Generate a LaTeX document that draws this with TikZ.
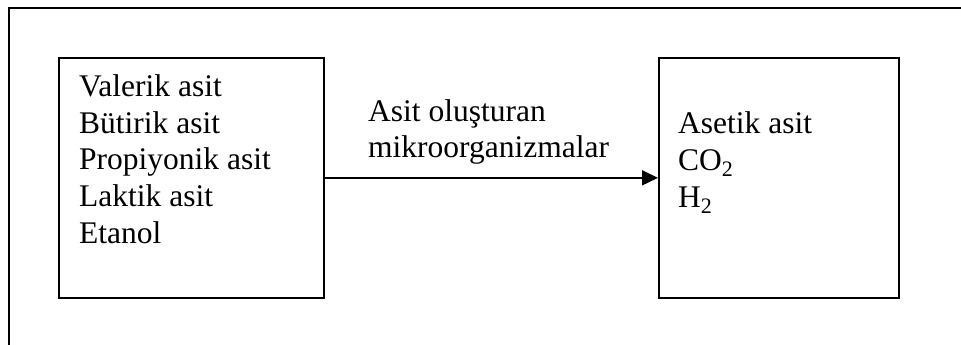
\documentclass[tikz,border=0pt]{standalone}
\usepackage{fontspec}
\setmainfont{Liberation Serif}
\usetikzlibrary{arrows.meta}
\begin{document}
\begin{tikzpicture}[x=1pt,y=-1pt,
  box/.style={draw, line width=1.7pt, inner sep=0pt, minimum width=#1, minimum height=240pt, anchor=north west},
  txt/.style={anchor=base west, inner sep=0pt, font=\fontsize{31.5}{36.5}\selectfont}]
\useasboundingbox (0,0) rectangle (961,345);
\coordinate (fb) at (9,346);
\coordinate (ftl) at (9,8);
\coordinate (ftr) at (962,8);
\draw[line width=2pt] (fb) -- (ftl) -- (ftr);
\node[box=265pt] (L) at (58,57) {};
\node[box=240pt] (R) at (658,57) {};
\node[txt] (l1) at (79,96.7) {Valerik asit};
\node[txt] (l2) at (79,133.2) {Bütirik asit};
\node[txt] (l3) at (79,169.7) {Propiyonik asit};
\node[txt] (l4) at (79,206.2) {Laktik asit};
\node[txt] (l5) at (79,243) {Etanol};
\node[txt] (r1) at (678,133.3) {Asetik asit};
\node[txt] (r2) at (678,170.5) {CO\textsubscript{2}};
\node[txt] (r3) at (678,207) {H\textsubscript{2}};
\node[txt] (a1) at (368,121.7) {Asit oluşturan};
\node[txt] (a2) at (368,157.7) {mikroorganizmalar};
\draw[line width=1.6pt, -{Triangle[length=16pt,width=15pt]}] (L.east) -- (R.west);
\end{tikzpicture}
\end{document}
